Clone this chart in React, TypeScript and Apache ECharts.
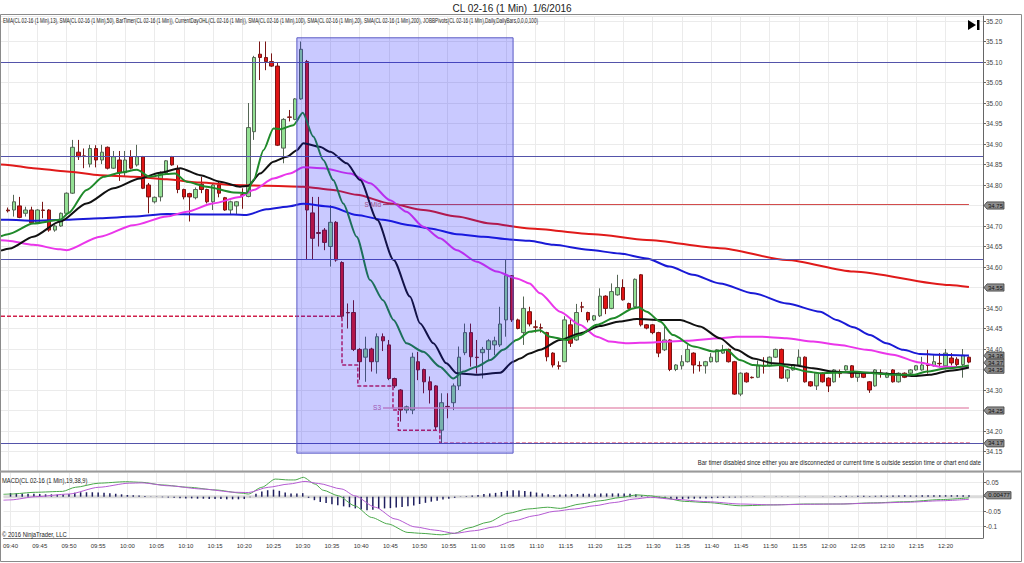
import React, { useEffect, useRef } from 'react';
import * as echarts from 'echarts';

const FONT = '"Liberation Sans", Arial, Helvetica, sans-serif';

// ---------- texts ----------
const chartTitle = 'CL 02-16 (1 Min)  1/6/2016';
const indicatorCaption =
  'EMA(CL 02-16 (1 Min),13), SMA(CL 02-16 (1 Min),50), BarTimer(CL 02-16 (1 Min)), CurrentDayOHL(CL 02-16 (1 Min)), SMA(CL 02-16 (1 Min),100), SMA(CL 02-16 (1 Min),20), SMA(CL 02-16 (1 Min),200), JOBBPivots(CL 02-16 (1 Min),Daily,DailyBars,0,0,0,100)';
const barTimerNote =
  'Bar timer disabled since either you are disconnected or current time is outside session time or chart end date';
const macdCaption = 'MACD(CL 02-16 (1 Min),19,38,9)';
const copyrightText = '\u00a9 2016 NinjaTrader, LLC';

// ---------- x axis tick labels (one bar per minute, index 0 = 09:40) ----------
const timeLabels = [
  '09:40', '09:45', '09:50', '09:55', '10:00', '10:05', '10:10', '10:15', '10:20', '10:25', '10:30',
  '10:35', '10:40', '10:45', '10:50', '10:55', '11:00', '11:05', '11:10', '11:15', '11:20', '11:25',
  '11:30', '11:35', '11:40', '11:45', '11:50', '11:55', '12:00', '12:05', '12:10', '12:15', '12:20',
];

// ---------- price bars: [open, close, low, high] ----------
const ohlc: number[][] = [
  [34.739, 34.737, 34.733, 34.745], [34.739, 34.759, 34.723, 34.776], [34.749, 34.721, 34.719, 34.771],
  [34.731, 34.739, 34.723, 34.747], [34.739, 34.708, 34.706, 34.747], [34.708, 34.739, 34.706, 34.741],
  [34.739, 34.738, 34.719, 34.759], [34.739, 34.690, 34.686, 34.741], [34.690, 34.700, 34.686, 34.702],
  [34.700, 34.731, 34.698, 34.733], [34.731, 34.780, 34.729, 34.782], [34.780, 34.892, 34.778, 34.910],
  [34.880, 34.869, 34.861, 34.910], [34.871, 34.870, 34.841, 34.889], [34.851, 34.889, 34.843, 34.898],
  [34.889, 34.861, 34.843, 34.897], [34.861, 34.880, 34.851, 34.898], [34.892, 34.841, 34.838, 34.894],
  [34.841, 34.869, 34.839, 34.883], [34.861, 34.830, 34.810, 34.883], [34.830, 34.861, 34.820, 34.883],
  [34.869, 34.841, 34.838, 34.885], [34.849, 34.869, 34.845, 34.898], [34.869, 34.792, 34.790, 34.871],
  [34.800, 34.771, 34.731, 34.805], [34.759, 34.770, 34.755, 34.772], [34.771, 34.830, 34.760, 34.833],
  [34.830, 34.859, 34.826, 34.861], [34.869, 34.849, 34.847, 34.871], [34.838, 34.789, 34.780, 34.848],
  [34.789, 34.771, 34.765, 34.791], [34.779, 34.771, 34.711, 34.781], [34.769, 34.789, 34.765, 34.794],
  [34.802, 34.789, 34.780, 34.820], [34.789, 34.759, 34.755, 34.791], [34.759, 34.800, 34.739, 34.803],
  [34.800, 34.780, 34.770, 34.810], [34.769, 34.739, 34.737, 34.771], [34.739, 34.759, 34.729, 34.762],
  [34.749, 34.759, 34.729, 34.761], [34.776, 34.775, 34.742, 34.792], [34.772, 34.940, 34.770, 35.000],
  [34.930, 35.111, 34.910, 35.115], [35.119, 35.111, 35.056, 35.150], [35.111, 35.101, 35.080, 35.150],
  [35.101, 35.090, 35.088, 35.121], [35.090, 34.897, 34.895, 35.100], [34.890, 34.960, 34.853, 34.963],
  [34.966, 34.965, 34.955, 34.983], [34.960, 35.010, 34.958, 35.012], [35.010, 35.131, 35.008, 35.150],
  [35.101, 34.739, 34.617, 35.105], [34.732, 34.670, 34.617, 34.771], [34.684, 34.682, 34.650, 34.771],
  [34.690, 34.660, 34.641, 34.695], [34.650, 34.709, 34.601, 34.751], [34.709, 34.617, 34.613, 34.712],
  [34.611, 34.480, 34.475, 34.614], [34.489, 34.488, 34.450, 34.511], [34.489, 34.399, 34.395, 34.519],
  [34.399, 34.369, 34.325, 34.402], [34.380, 34.400, 34.320, 34.430], [34.400, 34.369, 34.345, 34.403],
  [34.369, 34.430, 34.340, 34.438], [34.430, 34.420, 34.395, 34.438], [34.410, 34.328, 34.324, 34.422],
  [34.328, 34.310, 34.305, 34.330], [34.300, 34.251, 34.223, 34.302], [34.251, 34.259, 34.243, 34.262],
  [34.251, 34.380, 34.241, 34.391], [34.369, 34.349, 34.324, 34.393], [34.350, 34.320, 34.292, 34.352],
  [34.320, 34.300, 34.267, 34.333], [34.310, 34.210, 34.202, 34.312], [34.202, 34.269, 34.170, 34.292],
  [34.260, 34.259, 34.231, 34.292], [34.269, 34.310, 34.251, 34.316], [34.310, 34.380, 34.300, 34.406],
  [34.391, 34.440, 34.385, 34.462], [34.440, 34.381, 34.357, 34.462], [34.380, 34.379, 34.340, 34.422],
  [34.391, 34.399, 34.328, 34.405], [34.399, 34.420, 34.372, 34.424], [34.410, 34.420, 34.385, 34.430],
  [34.410, 34.461, 34.405, 34.503], [34.471, 34.579, 34.430, 34.617], [34.579, 34.471, 34.466, 34.580],
  [34.471, 34.450, 34.448, 34.474], [34.440, 34.499, 34.410, 34.528], [34.491, 34.461, 34.455, 34.503],
  [34.454, 34.453, 34.440, 34.470], [34.452, 34.451, 34.440, 34.462], [34.440, 34.381, 34.370, 34.442],
  [34.390, 34.361, 34.355, 34.392], [34.359, 34.358, 34.350, 34.370], [34.369, 34.471, 34.368, 34.480],
  [34.459, 34.414, 34.405, 34.475], [34.422, 34.489, 34.420, 34.510], [34.503, 34.502, 34.490, 34.515],
  [34.489, 34.471, 34.465, 34.491], [34.471, 34.481, 34.468, 34.483], [34.481, 34.529, 34.478, 34.548],
  [34.529, 34.499, 34.485, 34.531], [34.499, 34.540, 34.497, 34.560], [34.532, 34.550, 34.530, 34.581],
  [34.550, 34.520, 34.518, 34.570], [34.511, 34.499, 34.497, 34.513], [34.503, 34.570, 34.500, 34.572],
  [34.581, 34.459, 34.455, 34.583], [34.459, 34.451, 34.448, 34.461], [34.459, 34.440, 34.436, 34.461],
  [34.440, 34.390, 34.380, 34.442], [34.398, 34.422, 34.395, 34.455], [34.422, 34.350, 34.346, 34.424],
  [34.350, 34.361, 34.346, 34.363], [34.359, 34.369, 34.350, 34.385], [34.369, 34.399, 34.367, 34.410],
  [34.390, 34.361, 34.340, 34.392], [34.360, 34.359, 34.345, 34.370], [34.359, 34.369, 34.340, 34.371],
  [34.369, 34.380, 34.367, 34.390], [34.369, 34.398, 34.367, 34.400], [34.390, 34.398, 34.388, 34.410],
  [34.399, 34.369, 34.367, 34.401], [34.369, 34.290, 34.288, 34.371], [34.290, 34.341, 34.285, 34.343],
  [34.341, 34.320, 34.318, 34.343], [34.331, 34.330, 34.328, 34.333], [34.331, 34.359, 34.329, 34.372],
  [34.359, 34.358, 34.340, 34.380], [34.359, 34.380, 34.357, 34.382], [34.380, 34.399, 34.378, 34.401],
  [34.399, 34.329, 34.327, 34.401], [34.329, 34.349, 34.320, 34.351], [34.349, 34.361, 34.347, 34.363],
  [34.361, 34.380, 34.359, 34.399], [34.380, 34.320, 34.318, 34.382], [34.320, 34.310, 34.308, 34.322],
  [34.310, 34.341, 34.300, 34.343], [34.341, 34.320, 34.318, 34.343], [34.329, 34.310, 34.295, 34.331],
  [34.320, 34.349, 34.318, 34.351], [34.341, 34.340, 34.330, 34.350], [34.349, 34.359, 34.347, 34.361],
  [34.359, 34.331, 34.329, 34.361], [34.331, 34.341, 34.320, 34.343], [34.341, 34.331, 34.329, 34.343],
  [34.320, 34.300, 34.293, 34.322], [34.310, 34.349, 34.308, 34.351], [34.341, 34.340, 34.330, 34.350],
  [34.331, 34.341, 34.329, 34.343], [34.349, 34.320, 34.318, 34.351], [34.320, 34.341, 34.318, 34.343],
  [34.341, 34.331, 34.329, 34.343], [34.341, 34.349, 34.339, 34.351], [34.349, 34.359, 34.347, 34.361],
  [34.349, 34.361, 34.347, 34.381], [34.361, 34.360, 34.340, 34.398], [34.359, 34.369, 34.357, 34.385],
  [34.365, 34.364, 34.355, 34.390], [34.359, 34.390, 34.350, 34.400], [34.378, 34.366, 34.360, 34.390],
  [34.375, 34.362, 34.355, 34.380], [34.362, 34.385, 34.330, 34.400], [34.380, 34.368, 34.365, 34.382],
];

// ---------- moving averages: [bar index, value] ----------
const ema13: number[][] = [
  [-1.2, 34.675], [0, 34.68], [4.3, 34.706], [8.9, 34.715], [10.3, 34.731], [13.4, 34.788], [16.3, 34.82],
  [19.1, 34.83], [22, 34.837], [24.2, 34.82], [27.1, 34.827], [28.5, 34.828], [30.5, 34.808], [33.9, 34.796],
  [38.5, 34.782], [40.7, 34.78], [41.9, 34.812], [43.6, 34.885], [45.3, 34.938], [46.5, 34.936], [48.7, 34.946],
  [50.3, 34.976], [52.1, 34.918], [53.8, 34.861], [55.5, 34.812], [57.2, 34.755], [59.5, 34.674], [61.8, 34.568],
  [64, 34.519], [65.8, 34.471], [68, 34.414], [70.9, 34.393], [73.7, 34.357], [76, 34.328], [77.7, 34.345],
  [80, 34.357], [82.3, 34.373], [84.5, 34.398], [86.8, 34.422], [89, 34.442], [90.8, 34.446], [92.5, 34.43],
  [95.3, 34.422], [97.6, 34.434], [100.5, 34.459], [103.3, 34.475], [106.7, 34.499], [107.6, 34.502],
  [109, 34.491], [111.3, 34.467], [113.5, 34.434], [117, 34.406], [120.4, 34.394], [122.6, 34.398],
  [124.9, 34.373], [127.2, 34.361], [129.5, 34.359], [131.7, 34.361], [134, 34.353], [136.3, 34.345],
  [138.6, 34.341], [140.9, 34.342], [144.3, 34.345], [147.7, 34.341], [151, 34.337], [154.5, 34.337],
  [156.8, 34.345], [160.2, 34.353], [164, 34.36],
];
const sma20: number[][] = [
  [-1.2, 34.64], [0.3, 34.645], [4.3, 34.674], [8.9, 34.711], [13.4, 34.755], [18, 34.792], [22.5, 34.816],
  [25.9, 34.83], [29.4, 34.841], [32.8, 34.824], [36.2, 34.808], [39.6, 34.796], [41, 34.798], [43, 34.828],
  [45.3, 34.857], [47.6, 34.869], [49.3, 34.885], [50.4, 34.902], [53.2, 34.893], [55, 34.881], [57.8, 34.853],
  [60.1, 34.812], [63, 34.715], [65.8, 34.617], [68.6, 34.528], [70.3, 34.463], [72.6, 34.414], [74.8, 34.365],
  [76.6, 34.341], [80, 34.337], [84, 34.342], [86.2, 34.369], [87.4, 34.377], [89, 34.389], [90.8, 34.398],
  [94.2, 34.422], [97.6, 34.438], [101, 34.456], [104.4, 34.467], [107.3, 34.473], [111.3, 34.471],
  [114.7, 34.471], [118.1, 34.455], [121.5, 34.426], [124.3, 34.398], [127.2, 34.377], [130.6, 34.365],
  [134, 34.361], [137.4, 34.353], [140.9, 34.345], [144.3, 34.342], [147.7, 34.342], [151, 34.339],
  [154.5, 34.334], [157.3, 34.337], [160.7, 34.347], [164, 34.355],
];
const sma50: number[][] = [
  [-1.2, 34.665], [0, 34.664], [4.3, 34.654], [8.9, 34.643], [10, 34.641], [15.7, 34.674], [21.4, 34.702],
  [27.1, 34.723], [30.5, 34.735], [35, 34.755], [39.6, 34.771], [41.9, 34.788], [45.3, 34.816], [48.1, 34.828],
  [50.4, 34.843], [53.8, 34.841], [58.4, 34.828], [61.8, 34.804], [65.2, 34.763], [68, 34.735], [70.9, 34.698],
  [73.7, 34.67], [76.6, 34.641], [80, 34.613], [83.4, 34.589], [86.8, 34.572], [89, 34.56], [90.8, 34.536],
  [94.2, 34.491], [97.6, 34.459], [100.5, 34.43], [102.7, 34.418], [105.6, 34.414], [110.1, 34.416],
  [115.8, 34.42], [121.5, 34.426], [124.3, 34.43], [128.3, 34.43], [132.9, 34.426], [137.4, 34.418],
  [141.9, 34.41], [146.5, 34.398], [151, 34.386], [155.6, 34.367], [159, 34.357], [164, 34.356],
];
const sma100: number[][] = [
  [-1.2, 34.715], [0, 34.715], [4.3, 34.713], [10, 34.715], [15.7, 34.719], [21.4, 34.723], [27.1, 34.729],
  [32.8, 34.728], [38.5, 34.728], [40.7, 34.727], [44.1, 34.741], [47.6, 34.747], [50.4, 34.754], [55, 34.747],
  [59.5, 34.727], [64, 34.715], [68.6, 34.702], [72, 34.694], [76.6, 34.68], [81.1, 34.674], [85.6, 34.667],
  [89, 34.664], [93.1, 34.654], [99, 34.642], [104.4, 34.633], [109, 34.621], [112.9, 34.601], [116.9, 34.581],
  [121.5, 34.56], [127.2, 34.536], [132.9, 34.511], [138.6, 34.491], [141.4, 34.471], [144.3, 34.453],
  [147.1, 34.434], [149.9, 34.414], [152.8, 34.398], [155.6, 34.388], [158.5, 34.386], [164, 34.384],
];
const sma200: number[][] = [
  [-1.2, 34.85], [0, 34.849], [4.3, 34.841], [10, 34.833], [15.7, 34.824], [21.4, 34.82], [27.1, 34.814],
  [32.8, 34.806], [38.5, 34.8], [44.1, 34.798], [50.4, 34.796], [55.5, 34.788], [59.5, 34.776], [65.2, 34.755],
  [70.9, 34.739], [76.6, 34.723], [82.3, 34.706], [89, 34.694], [100, 34.68], [109, 34.666], [121.5, 34.646],
  [132.9, 34.617], [144.3, 34.589], [160.7, 34.556], [164, 34.551],
];

// ---------- current day low (stepped) ----------
const dayLow: number[][] = [
  [-1.2, 34.48], [57, 34.48], [57, 34.361], [59.7, 34.361], [59.7, 34.31], [65.7, 34.31], [65.7, 34.251],
  [66.6, 34.251], [66.6, 34.202], [73.7, 34.202], [73.7, 34.17], [164.5, 34.17],
];

// ---------- pivots ----------
const pivotLevels = [35.1, 34.871, 34.62, 34.166];
const pivotNames = ['S Mid', 'S3'];
const pivotValues = [34.752, 34.257];
const pivotFromIndex = 64;
const pivotToIndex = 164;

// ---------- drawn rectangle (bar index / price) ----------
const boxFromIndex = 49.3;
const boxToIndex = 86.2;
const boxLow = 34.146;
const boxHigh = 35.159;

// ---------- right-axis value tags ----------
const priceTags = [34.75, 34.55, 34.38, 34.37, 34.35, 34.25, 34.17];
const macdTag = 0.00477;

// ---------- MACD ----------
const macdLine: number[][] = [
  [-1.2, 0.008], [0, 0.009], [4.3, 0.015], [8.9, 0.018], [11.1, 0.032], [15.1, 0.046], [19.7, 0.051],
  [22.5, 0.049], [25.9, 0.04], [30.5, 0.032], [35, 0.023], [39.6, 0.012], [40.7, 0.009], [43, 0.032],
  [45.3, 0.06], [47.6, 0.057], [48.7, 0.057], [50.1, 0.066], [52.1, 0.043], [53.5, 0.022], [56.1, 0.003],
  [58.9, -0.031], [61.8, -0.071], [64.6, -0.093], [68, -0.122], [70.3, -0.125], [73.7, -0.13], [76, -0.125],
  [78.3, -0.107], [81.7, -0.087], [85.1, -0.057], [88.5, -0.042], [91.9, -0.036], [94.1, -0.04],
  [97.5, -0.025], [100.9, -0.014], [104.3, -0.003], [107.2, 0.006], [109.5, 0.003], [111.3, -0.002],
  [115.3, -0.016], [119.2, -0.02], [124.9, -0.031], [130.6, -0.028], [136.3, -0.025], [142, -0.025],
  [147.7, -0.021], [153.4, -0.017], [159.1, -0.01], [164, -0.004],
];
const macdAvg: number[][] = [
  [-1.2, -0.012], [0, -0.011], [4.3, 0], [10, 0.009], [15.1, 0.032], [20.3, 0.046], [22.5, 0.047],
  [27.1, 0.037], [32.8, 0.026], [38.5, 0.015], [40.7, 0.014], [44.1, 0.032], [47.6, 0.043], [50.4, 0.052],
  [52.7, 0.045], [56.7, 0.026], [58.9, 0.003], [62.4, -0.036], [65.8, -0.076], [69.2, -0.103], [72.6, -0.114],
  [76, -0.125], [79.4, -0.116], [82.8, -0.103], [86.2, -0.082], [89.6, -0.065], [93, -0.05], [96.5, -0.042],
  [99.9, -0.031], [103.3, -0.02], [106.7, -0.008], [109.5, -0.002], [113.5, -0.009], [119.2, -0.017],
  [124.9, -0.025], [130.6, -0.028], [136.3, -0.026], [142, -0.025], [147.7, -0.022], [153.4, -0.019],
  [159.1, -0.014], [164, -0.009],
];
const macdDiff: number[] = [
  0.012, 0.012, 0.011, 0.01, 0.01, 0.009, 0.008, 0.008, 0.007, 0.007,
  0.009, 0.013, 0.015, 0.015, 0.015, 0.014, 0.013, 0.012, 0.01, 0.008,
  0.006, 0.005, 0.004, 0.002, 0.001, -0.001, -0.002, -0.003, -0.004, -0.005,
  -0.006, -0.006, -0.007, -0.007, -0.008, -0.008, -0.008, -0.009, -0.009, -0.009,
  -0.008, -0.002, 0.01, 0.018, 0.022, 0.024, 0.02, 0.014, 0.011, 0.011,
  0.012, -0.004, -0.012, -0.018, -0.022, -0.026, -0.029, -0.033, -0.036, -0.04,
  -0.044, -0.046, -0.045, -0.042, -0.04, -0.039, -0.037, -0.035, -0.033, -0.03,
  -0.025, -0.021, -0.017, -0.014, -0.01, -0.007, -0.004, -0.001, 0.002, 0.004,
  0.006, 0.009, 0.011, 0.013, 0.016, 0.02, 0.022, 0.021, 0.019, 0.017,
  0.014, 0.011, 0.008, 0.006, 0.007, 0.008, 0.009, 0.009, 0.01, 0.01,
  0.01, 0.011, 0.011, 0.011, 0.011, 0.011, 0.01, 0.008, 0.004, 0.001,
  -0.002, -0.004, -0.006, -0.008, -0.008, -0.008, -0.007, -0.007, -0.006, -0.006,
  -0.005, -0.004, -0.004, -0.003, -0.003, -0.002, -0.001, -0.001, 0, 0.001,
  0, -0.001, 0.001, 0.001, 0, 0.001, 0.001, 0, 0, 0.001,
  0, 0.002, 0.002, 0.003, 0.001, 0.003, 0.003, 0.002, 0.003, 0.004,
  0.003, 0.004, 0.004, 0.005, 0.004, 0.004, 0.005, 0.005, 0.005, 0.005,
  0.005, 0.005, 0.005, 0.005, 0.005,
];

// ---------- layout ----------
const W = 1024;
const H = 563;
const PLOT_L = 1;
const PLOT_R = 983;
const MAIN_TOP = 16;
const MAIN_BOTTOM = 472;
const MACD_TOP = 473;
const MACD_BOTTOM = 538;
const X_MIN = -1.2;
const X_MAX = 166.4;
const GRID_COLOR = '#ebebeb';

const tickIdx = timeLabels.map((_, k) => k * 5);

function buildOption(): any {
  const timeFmt = (v: number) => timeLabels[Math.round(v / 5)] ?? '';
  const maSeries = (name: string, data: number[][], color: string, width: number) => ({
    name, type: 'line', xAxisIndex: 0, yAxisIndex: 0, data, symbol: 'none', smooth: 0.25,
    smoothMonotone: 'x', silent: true, z: 4, lineStyle: { color, width },
  });
  return {
    animation: false,
    backgroundColor: '#ffffff',
    textStyle: { fontFamily: FONT },
    grid: [
      { left: PLOT_L, right: W - PLOT_R, top: MAIN_TOP, bottom: H - MAIN_BOTTOM },
      { left: PLOT_L, right: W - PLOT_R, top: MACD_TOP, bottom: H - MACD_BOTTOM },
    ],
    xAxis: [
      {
        type: 'value', gridIndex: 0, min: X_MIN, max: X_MAX,
        axisLine: { show: false, onZero: false },
        axisTick: { show: false, customValues: tickIdx },
        axisLabel: { show: false, customValues: tickIdx },
        splitLine: { show: true, lineStyle: { color: GRID_COLOR, width: 1 } },
      },
      {
        type: 'value', gridIndex: 1, min: X_MIN, max: X_MAX,
        axisLine: { show: true, onZero: false, lineStyle: { color: '#777', width: 1 } },
        axisTick: { show: false, customValues: tickIdx },
        axisLabel: { customValues: tickIdx, formatter: timeFmt, fontSize: 6, color: '#333', margin: 5 },
        splitLine: { show: true, lineStyle: { color: GRID_COLOR, width: 1 } },
      },
    ],
    yAxis: [
      {
        type: 'value', gridIndex: 0, position: 'right', min: 34.1, max: 35.2122, interval: 0.05,
        axisLine: { show: true, onZero: false, lineStyle: { color: '#666' } },
        axisTick: { show: true, length: 3, lineStyle: { color: '#666' } },
        axisLabel: {
          fontSize: 6.5, color: '#444', margin: 3, showMinLabel: false, showMaxLabel: false,
          formatter: (v: number) => v.toFixed(2),
        },
        splitLine: { show: true, lineStyle: { color: GRID_COLOR, width: 1 } },
      },
      {
        type: 'value', gridIndex: 1, position: 'right', min: -0.1409, max: 0.0807,
        axisLine: { show: true, onZero: false, lineStyle: { color: '#666' } },
        axisTick: { show: true, length: 3, lineStyle: { color: '#666' }, customValues: [-0.1, -0.05, 0, 0.05] },
        axisLabel: {
          fontSize: 6.5, color: '#444', margin: 3, customValues: [-0.1, -0.05, 0.05],
          formatter: (v: number) => String(+v.toFixed(2)),
        },
        splitLine: { show: true, lineStyle: { color: GRID_COLOR, width: 1 } },
      },
    ],
    series: [
      {
        type: 'line', xAxisIndex: 0, yAxisIndex: 0, data: [], symbol: 'none', silent: true, z: 3,
        markLine: {
          symbol: 'none', silent: true, animation: false, label: { show: false },
          lineStyle: { color: '#5454aa', width: 1, type: 'solid' },
          data: pivotLevels.map((v) => ({ yAxis: v })),
        },
      },
      {
        type: 'line', xAxisIndex: 0, yAxisIndex: 0, data: [], symbol: 'none', silent: true, z: 3,
        markLine: {
          symbol: 'none', silent: true, animation: false,
          label: { show: true, position: 'start', distance: 2, fontSize: 6.5, formatter: '{b}' },
          data: pivotNames.map((name, k) => {
            const color = k === 0 ? '#d24c4c' : '#e79ab9';
            return [
              {
                coord: [pivotFromIndex, pivotValues[k]], name,
                lineStyle: { color, width: k === 0 ? 1 : 1.5, type: 'solid' },
                label: { color: k === 0 ? '#c86060' : '#c86a9a' },
              },
              { coord: [pivotToIndex, pivotValues[k]] },
            ];
          }),
        },
      },
      {
        name: 'Day low', type: 'line', xAxisIndex: 0, yAxisIndex: 0, data: dayLow, symbol: 'none',
        silent: true, z: 3, lineStyle: { color: '#d0204a', width: 1.5, type: [4, 2] },
      },
      {
        name: 'CL', type: 'candlestick', xAxisIndex: 0, yAxisIndex: 0, barWidth: 4, silent: true, z: 2,
        data: ohlc.map((c, i) => [i, c[0], c[1], c[2], c[3]]),
        encode: { x: 0, y: [1, 2, 3, 4] },
        itemStyle: {
          color: '#93e093', color0: '#e01414', borderColor: '#556655', borderColor0: '#7a1515', borderWidth: 1,
        },
      },
      maSeries('SMA200', sma200, '#e01a1a', 2),
      maSeries('SMA100', sma100, '#1a1ad6', 2),
      maSeries('SMA50', sma50, '#ea36ea', 2),
      maSeries('SMA20', sma20, '#111111', 2),
      maSeries('EMA13', ema13, '#1f8a2a', 2),
      {
        type: 'custom', xAxisIndex: 0, yAxisIndex: 0, silent: true, z: 10,
        data: [[boxFromIndex, boxLow, boxToIndex, boxHigh]],
        encode: { x: [0, 2], y: [1, 3] },
        renderItem: (_p: any, api: any) => {
          const a = api.coord([api.value(0), api.value(3)]);
          const b = api.coord([api.value(2), api.value(1)]);
          return {
            type: 'rect',
            shape: { x: a[0], y: a[1], width: b[0] - a[0], height: b[1] - a[1] },
            style: { fill: 'rgba(20,20,255,0.23)', stroke: '#5a5ac4', lineWidth: 1 },
          };
        },
      },
      {
        type: 'line', xAxisIndex: 1, yAxisIndex: 1, data: [[X_MIN, 0], [X_MAX, 0]], symbol: 'none',
        silent: true, z: 1, lineStyle: { color: '#dadada', width: 3 },
      },
      {
        name: 'Diff', type: 'bar', xAxisIndex: 1, yAxisIndex: 1, barWidth: 1.5, silent: true, z: 2,
        data: macdDiff.map((v, i) => [i, v]), itemStyle: { color: '#1e1e5e' },
      },
      {
        name: 'MACD', type: 'line', xAxisIndex: 1, yAxisIndex: 1, data: macdLine, symbol: 'none', smooth: 0.25,
        smoothMonotone: 'x', silent: true, z: 3, lineStyle: { color: '#4aa84a', width: 1 },
      },
      {
        name: 'Avg', type: 'line', xAxisIndex: 1, yAxisIndex: 1, data: macdAvg, symbol: 'none', smooth: 0.25,
        smoothMonotone: 'x', silent: true, z: 3, lineStyle: { color: '#b45ad2', width: 1 },
      },
    ],
  };
}

const ctx = typeof document !== 'undefined' ? document.createElement('canvas').getContext('2d') : null;
function measure(text: string, size: number): number {
  if (!ctx) return text.length * size * 0.5;
  ctx.font = `${size}px ${FONT}`;
  return ctx.measureText(text).width;
}

function fitText(text: string, x: number, y: number, width: number, size: number, align: string, color: string) {
  const w = measure(text, size);
  return {
    type: 'text', x, y, scaleX: width / w, z: 50,
    style: { text, font: `${size}px ${FONT}`, fill: color, align, verticalAlign: 'middle' },
  };
}

function spreadTags(ys: number[], gap: number): number[] {
  const order = ys.map((y, i) => ({ y, i })).sort((a, b) => a.y - b.y);
  const clusters: { ys: number[]; idx: number[] }[] = [];
  const place = (c: { ys: number[] }) => {
    const mean = c.ys.reduce((s, v) => s + v, 0) / c.ys.length;
    return c.ys.map((_, k) => mean - ((c.ys.length - 1) / 2) * gap + k * gap);
  };
  for (const o of order) {
    clusters.push({ ys: [o.y], idx: [o.i] });
    while (clusters.length > 1) {
      const last = clusters[clusters.length - 1];
      const prev = clusters[clusters.length - 2];
      const pPos = place(prev);
      const lPos = place(last);
      if (lPos[0] - pPos[pPos.length - 1] < gap) {
        clusters.splice(clusters.length - 2, 2, { ys: prev.ys.concat(last.ys), idx: prev.idx.concat(last.idx) });
      } else break;
    }
  }
  const out = new Array(ys.length).fill(0);
  for (const c of clusters) {
    const pos = place(c);
    c.idx.forEach((i, k) => (out[i] = pos[k]));
  }
  return out;
}

function tagShape(y: number, text: string, w: number) {
  const x0 = PLOT_R + 1;
  const h = 3.6;
  return [
    {
      type: 'polygon', z: 60,
      shape: { points: [[x0, y], [x0 + 3, y - h], [x0 + w, y - h], [x0 + w, y + h], [x0 + 3, y + h]] },
      style: { fill: '#8e8e8e', stroke: '#3a3a3a', lineWidth: 0.8 },
    },
    {
      type: 'text', x: x0 + 3 + (w - 3) / 2, y, z: 61,
      style: { text, font: `6px ${FONT}`, fill: '#111', align: 'center', verticalAlign: 'middle' },
    },
  ];
}

function buildGraphics(chart: any) {
  const els: any[] = [];
  els.push({
    type: 'rect', z: 40, shape: { x: 0.5, y: 14.5, width: 1021, height: 547 },
    style: { fill: 'none', stroke: '#8a8a8a', lineWidth: 1 },
  });
  els.push({
    type: 'line', z: 40, shape: { x1: 0, y1: 471.5, x2: 1022, y2: 471.5 },
    style: { stroke: '#9a9a9a', lineWidth: 2 },
  });
  els.push({
    type: 'text', x: 512, y: 8, z: 50,
    style: { text: chartTitle, font: `10px ${FONT}`, fill: '#222', align: 'center', verticalAlign: 'middle' },
  });
  els.push(fitText(indicatorCaption, 3, 21, 538, 6.5, 'left', '#222'));
  els.push(fitText(barTimerNote, 981, 462, 284, 6.5, 'right', '#222'));
  els.push(fitText(macdCaption, 2, 480, 86, 6.5, 'left', '#222'));
  els.push(fitText(copyrightText, 2, 534, 65, 6.5, 'left', '#222'));
  els.push({ type: 'polygon', z: 50, shape: { points: [[968, 20], [968, 30], [976, 25]] }, style: { fill: '#000' } });
  els.push({ type: 'rect', z: 50, shape: { x: 977, y: 20, width: 2.5, height: 10 }, style: { fill: '#000' } });

  const ys = priceTags.map((v) => chart.convertToPixel({ yAxisIndex: 0 }, v));
  const placed = spreadTags(ys, 7);
  priceTags.forEach((v, i) => els.push(...tagShape(placed[i], v.toFixed(2), 20)));
  const my = chart.convertToPixel({ yAxisIndex: 1 }, macdTag);
  els.push(...tagShape(my, String(macdTag), 27));
  return els;
}

export default function App() {
  const ref = useRef<HTMLDivElement>(null);
  useEffect(() => {
    const el = ref.current;
    if (!el) return;
    const chart = echarts.init(el, null, { renderer: 'svg' });
    chart.setOption(buildOption());
    chart.setOption({ graphic: { elements: buildGraphics(chart) } });
    return () => chart.dispose();
  }, []);
  return <div ref={ref} style={{ position: 'absolute', left: 0, top: 0, width: W, height: H }} />;
}
